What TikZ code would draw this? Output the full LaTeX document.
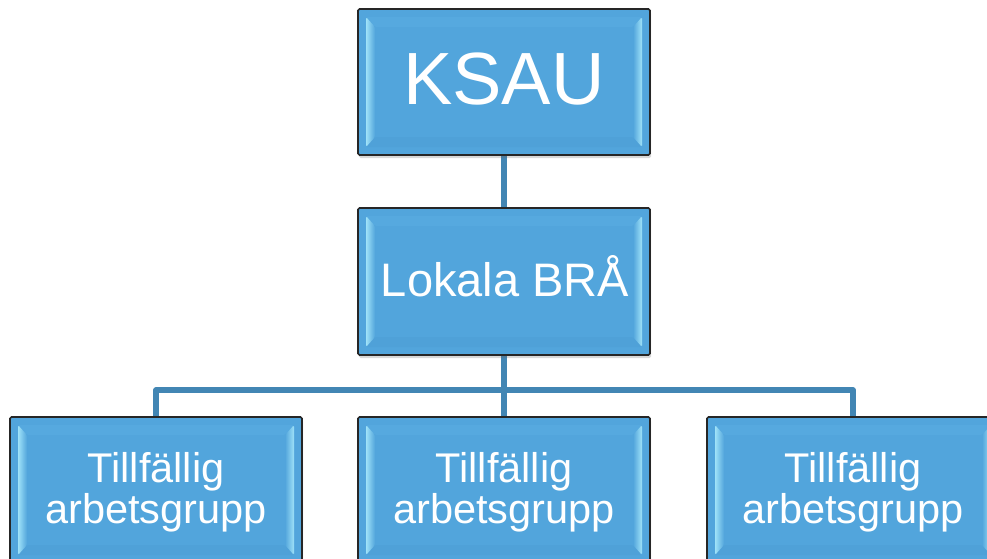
\documentclass[tikz,border=0pt]{standalone}
\usepackage{fontspec}
\setmainfont{Liberation Sans}
\usetikzlibrary{calc,backgrounds,shadows}
\definecolor{boxblue}{HTML}{52A5DC}
\definecolor{linkblue}{HTML}{4286B4}
\definecolor{bevlight}{HTML}{DCFDFF}
\definecolor{bevmid}{HTML}{9FE2F8}
\definecolor{bevtop}{HTML}{56A9DF}
\definecolor{bevbot}{HTML}{4FA1D8}
\tikzset{
  bevbox/.style={draw=black!85, line width=1.6pt, fill=boxblue, rounded corners=1.5pt,
    minimum width=292pt, minimum height=146pt, inner sep=0pt, text=white,
    drop shadow={shadow xshift=1pt, shadow yshift=-3pt, opacity=0.25, fill=black!60},
    path picture={
      \coordinate (nw) at (path picture bounding box.north west);
      \coordinate (se) at (path picture bounding box.south east);
      \fill[bevtop] ($(nw)+(8,8)$) -- ($(se|-nw)+(-8,8)$) -- ($(se|-nw)+(-17,18)$) -- ($(nw)+(17,18)$) -- cycle;
      \fill[bevbot] ($(nw|-se)+(8,-8)$) -- ($(se)+(-8,-8)$) -- ($(se)+(-17,-18)$) -- ($(nw|-se)+(17,-18)$) -- cycle;
      \shade[left color=bevmid, middle color=bevlight, right color=boxblue]
        ($(nw)+(8,8)$) -- ($(nw)+(17,18)$) -- ($(nw|-se)+(17,-18)$) -- ($(nw|-se)+(8,-8)$) -- cycle;
      \shade[left color=boxblue, middle color=bevlight, right color=bevmid]
        ($(se|-nw)+(-17,18)$) -- ($(se|-nw)+(-8,8)$) -- ($(se)+(-8,-8)$) -- ($(se)+(-17,-18)$) -- cycle;
    }},
  link/.style={draw=linkblue, line width=5.5pt, line join=round},
  txt/.style={text=white, anchor=base, inner sep=0pt}
}
\begin{document}
\begin{tikzpicture}[x=1pt,y=-1pt]
\useasboundingbox (0,0) rectangle (987,559);
\node[bevbox] (ksau) at (504,82) {};
\node[bevbox, minimum height=147pt] (lok) at (504,281.5) {};
\node[bevbox] (b1) at (156,490) {};
\node[bevbox] (b2) at (504,490) {};
\node[bevbox] (b3) at (853,490) {};
\node[txt, font=\fontsize{74}{74}\selectfont] (tksau) at (504,105) {KSAU};
\node[txt, font=\fontsize{47}{47}\selectfont] (tlok) at (505,296) {Lokala BRÅ};
\foreach \n/\x in {1/156,2/504,3/853}{
  \node[txt, font=\fontsize{41.5}{41.5}\selectfont] (ta\n) at (\x,482) {Tillfällig};
  \node[txt, font=\fontsize{41.5}{41.5}\selectfont] (tb\n) at (\x,523) {arbetsgrupp};
}
\coordinate (bus) at (0,390);
\begin{scope}[on background layer]
  \fill[white] (0,0) rectangle (987,559);
  \draw[link] (ksau.south) -- (lok.north);
  \draw[link] (lok.south) -- (b2.north);
  \draw[link] (lok.south |- bus) -| (b1.north);
  \draw[link] (lok.south |- bus) -| (b3.north);
\end{scope}
\end{tikzpicture}
\end{document}
